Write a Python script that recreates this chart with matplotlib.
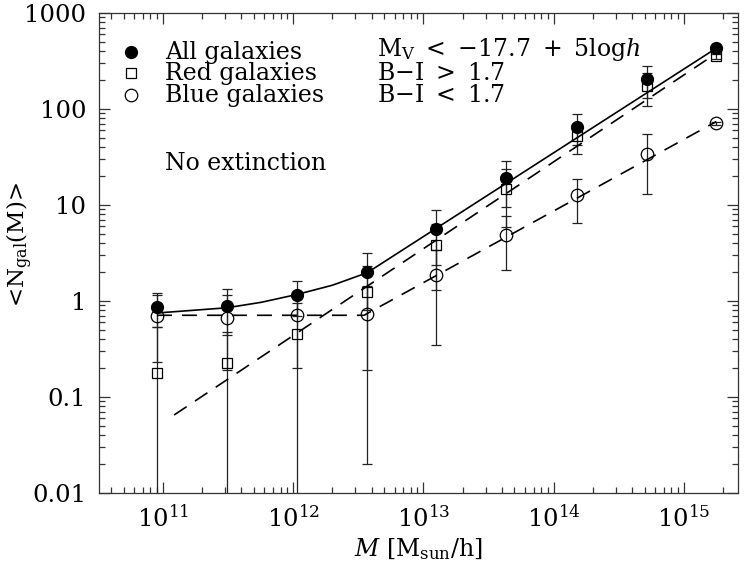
import matplotlib
matplotlib.use("Agg")
import matplotlib.pyplot as plt
import numpy as np

plt.rcParams['font.family'] = 'serif'
plt.rcParams['font.serif'] = ['DejaVu Serif']
plt.rcParams['mathtext.fontset'] = 'dejavuserif'
plt.rcParams['axes.formatter.use_mathtext'] = True

# halo mass bins [Msun/h]
mass = [9.0e10, 3.1e11, 1.07e12, 3.7e12, 1.25e13, 4.3e13, 1.5e14, 5.2e14, 1.77e15]

# mean occupation and 1-sigma errors
n_all = [0.87, 0.88, 1.15, 2.0, 5.6, 19.0, 65.0, 205.0, 435.0]
e_all = [0.33, 0.44, 0.45, 1.2, 3.2, 9.5, 23.0, 75.0, 15.0]
n_red = [0.18, 0.225, 0.45, 1.24, 3.8, 14.7, 52.0, 173.0, 355.0]
e_red = [0.35, 0.25, 0.5, 1.05, 2.5, 8.8, 18.0, 66.0, 20.0]
n_blue = [0.69, 0.67, 0.72, 0.73, 1.87, 4.9, 12.6, 34.0, 71.0]
e_blue = [0.46, 0.48, 0.52, 0.71, 1.52, 2.8, 6.1, 21.0, 3.0]

# fitted occupation curves
fit_all_m = [9.0e10, 3.1e11, 5.7e11, 1.07e12, 2.0e12, 3.7e12, 1.77e15]
fit_all_n = [0.75, 0.85, 0.97, 1.17, 1.46, 1.97, 430.0]
fit_red_m = [1.22e11, 1.77e15]
fit_red_n = [0.065, 380.0]
fit_blue_m = [9.0e10, 3.5e12, 1.77e15]
fit_blue_n = [0.71, 0.71, 74.0]

fs = 17

fig = plt.figure(figsize=(7.44, 5.73), dpi=100)
ax = fig.add_axes([0.133, 0.1396, 0.859, 0.8377])
ax.set_xscale('log')
ax.set_yscale('log')

ekw = dict(ls='none', ecolor='#222222', elinewidth=0.9, capsize=3.5, capthick=0.9)
ax.errorbar(mass, n_red, yerr=e_red, fmt='s', ms=7, mfc='none', mec='black',
            mew=0.9, **ekw)
ax.errorbar(mass, n_blue, yerr=e_blue, fmt='o', ms=9, mfc='none', mec='black',
            mew=0.9, **ekw)
ax.errorbar(mass, n_all, yerr=e_all, fmt='o', ms=8.5, mfc='black', mec='black',
            **ekw)

ax.plot(fit_all_m, fit_all_n, color='black', lw=1.2)
ax.plot(fit_red_m, fit_red_n, color='black', lw=1.2, dashes=(9, 6))
ax.plot(fit_blue_m, fit_blue_n, color='black', lw=1.2, dashes=(9, 6))

ax.set_xlim(3.23e10, 2.6e15)
ax.set_ylim(0.01, 1000)
ax.set_yticks([0.01, 0.1, 1, 10, 100, 1000])
ax.set_yticklabels(['0.01', '0.1', '1', '10', '100', '1000'])
ax.set_xticks([1e11, 1e12, 1e13, 1e14, 1e15])
ax.set_xticklabels([r'$10^{11}$', r'$10^{12}$', r'$10^{13}$', r'$10^{14}$', r'$10^{15}$'])

ax.tick_params(which='both', direction='in', top=True, right=True, labelsize=17.5,
               width=0.9, color='#333333')
ax.tick_params(which='major', length=8, pad=9)
ax.tick_params(which='minor', length=4)
for s in ax.spines.values():
    s.set_linewidth(0.9)
    s.set_color('#333333')

ax.set_xlabel(r'$M$ [M$_{\mathrm{sun}}$/h]', fontsize=fs, labelpad=3)
ax.set_ylabel(r'<N$_{\mathrm{gal}}$(M)>', fontsize=16.5)
ax.yaxis.set_label_coords(-0.1, 0.517)

# key
tx = ax.transAxes
ax.plot([0.05], [0.918], 'o', ms=8.5, color='black', transform=tx, clip_on=False)
ax.plot([0.05], [0.874], 's', ms=7, mfc='none', mec='black', mew=0.9, transform=tx)
ax.plot([0.05], [0.829], 'o', ms=9, mfc='none', mec='black', mew=0.9, transform=tx)
ax.text(0.103, 0.918, 'All galaxies', fontsize=fs, va='center', transform=tx)
ax.text(0.103, 0.874, 'Red galaxies', fontsize=fs, va='center', transform=tx)
ax.text(0.103, 0.829, 'Blue galaxies', fontsize=fs, va='center', transform=tx)
ax.text(0.435, 0.924, r'$\mathrm{M_V}\ <\ {-}17.7\ +\ 5\mathrm{log}h$', fontsize=fs,
        va='center', transform=tx)
ax.text(0.435, 0.874, r'$\mathrm{B{-}I}\ >\ 1.7$', fontsize=fs, va='center', transform=tx)
ax.text(0.435, 0.829, r'$\mathrm{B{-}I}\ <\ 1.7$', fontsize=fs, va='center', transform=tx)
ax.text(0.103, 0.687, 'No extinction', fontsize=fs, va='center', transform=tx)

fig.savefig('out.png', dpi=100)
